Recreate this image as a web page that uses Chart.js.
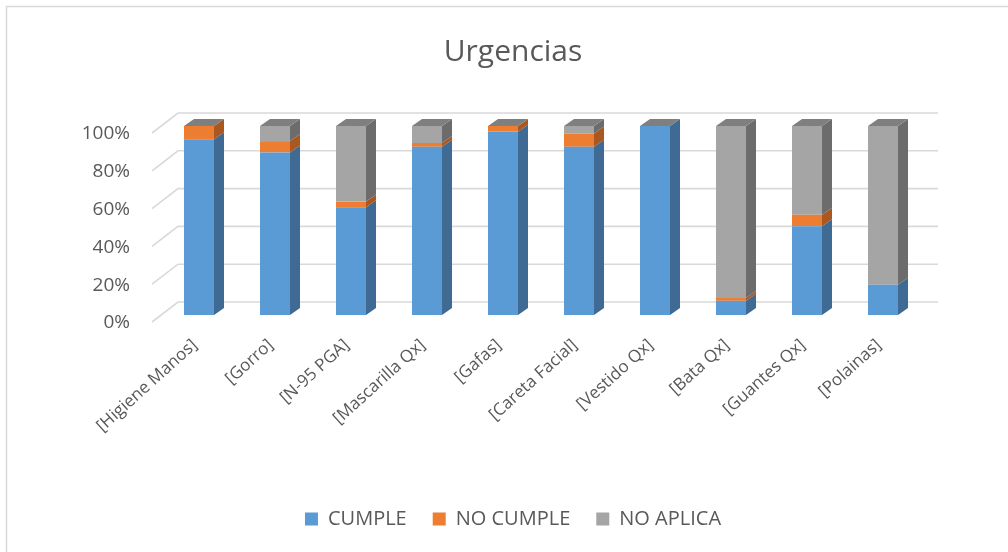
<!DOCTYPE html>
<html>
<head>
<meta charset="utf-8">
<script src="https://cdn.jsdelivr.net/npm/chart.js@4"></script>
<style>
  html, body { margin: 0; padding: 0; background: #fff; }
  #wrap { width: 1008px; height: 552px; }
</style>
</head>
<body>
<div id="wrap"><canvas id="myChart" width="1008" height="552"></canvas></div>
<script>
const categories = ['[Higiene Manos]', '[Gorro]', '[N-95 PGA]', '[Mascarilla Qx]', '[Gafas]',
                    '[Careta Facial]', '[Vestido Qx]', '[Bata Qx]', '[Guantes Qx]', '[Polainas]']
const cumple   = [93, 86, 57, 89, 97, 89, 100, 7.5, 47, 16]
const noCumple = [7, 6, 3, 2, 3, 7, 0, 1.5, 6, 0]
const noAplica = [0, 8, 40, 9, 0, 4, 0, 91, 47, 84]
const seriesNames = ['CUMPLE', 'NO CUMPLE', 'NO APLICA']
const yTicks = [0, 20, 40, 60, 80, 100]

// colours: front face / side face
const fronts = ['#5b9bd5', '#ed7d31', '#a5a5a5']
const sides = ['#3f6a93', '#ab5820', '#6c6c6c']
const topColor = '#7f7f7f'

// fake 3D: bar depth, back wall offset, front floor edge
const bar3d = {dx: 10, dy: 7}
const wall = {dx: 17, dy: 13}
const floorEdge = {dx: -9, dy: 7}

Chart.defaults.font.family = "'Open Sans', sans-serif"
Chart.defaults.color = '#595959'

const frame = {
    id: 'frame',
    beforeDraw(chart) {
        const ctx = chart.ctx
        ctx.save()
        ctx.fillStyle = '#fff'
        ctx.fillRect(0, 0, chart.width, chart.height)
        ctx.strokeStyle = '#d9d9d9'
        ctx.lineWidth = 1.5
        ctx.strokeRect(6.5, 6.5, chart.width + 20, chart.height + 20)
        ctx.restore()
    },
    beforeDatasetsDraw(chart) {
        // back wall grid + floor diagonals
        const ctx = chart.ctx, y = chart.scales.y
        const {left, right} = chart.chartArea
        ctx.save()
        ctx.strokeStyle = '#d9d9d9'
        ctx.lineWidth = 1.6
        y.ticks.forEach(t => {
            const py = y.getPixelForValue(t.value)
            ctx.beginPath()
            ctx.moveTo(left + floorEdge.dx, py + floorEdge.dy)
            ctx.lineTo(left + wall.dx, py - wall.dy)
            ctx.lineTo(right + wall.dx, py - wall.dy)
            ctx.stroke()
        })
        ctx.restore()
    },
    afterDatasetsDraw(chart) {
        const ctx = chart.ctx
        const n = chart.data.datasets.length
        ctx.save()
        for (let i = 0; i < n; i++) {
            chart.getDatasetMeta(i).data.forEach(bar => {
                const p = bar.getProps(['x', 'y', 'base', 'width'], true)
                const r = p.x + p.width / 2
                if (Math.abs(p.base - p.y) < 0.01) return
                ctx.fillStyle = sides[i]
                ctx.beginPath()
                ctx.moveTo(r, p.y)
                ctx.lineTo(r + bar3d.dx, p.y - bar3d.dy)
                ctx.lineTo(r + bar3d.dx, p.base - bar3d.dy)
                ctx.lineTo(r, p.base)
                ctx.closePath()
                ctx.fill()
            })
        }
        // top of every stack
        chart.getDatasetMeta(n - 1).data.forEach(bar => {
            const p = bar.getProps(['x', 'y', 'width'], true)
            const l = p.x - p.width / 2, r = p.x + p.width / 2
            ctx.fillStyle = topColor
            ctx.beginPath()
            ctx.moveTo(l, p.y)
            ctx.lineTo(l + bar3d.dx, p.y - bar3d.dy)
            ctx.lineTo(r + bar3d.dx, p.y - bar3d.dy)
            ctx.lineTo(r, p.y)
            ctx.closePath()
            ctx.fill()
        })
        ctx.restore()
    }
}

new Chart('myChart', {
    type: 'bar',
    data: {
        labels: categories,
        datasets: [cumple, noCumple, noAplica].map((vals, i) => ({
            label: seriesNames[i],
            data: vals,
            backgroundColor: fronts[i],
            borderWidth: 0,
            categoryPercentage: 1,
            barPercentage: 0.395
        }))
    },
    options: {
        responsive: false,
        animation: false,
        layout: {padding: {top: 0, right: 0, bottom: 13, left: 18}},
        plugins: {
            title: {
                display: true,
                text: 'Urgencias',
                color: '#595959',
                font: {size: 30, weight: 'normal'},
                padding: {top: 34, bottom: 56}
            },
            legend: {
                position: 'bottom',
                labels: {boxWidth: 13, boxHeight: 13, padding: 26, font: {size: 20}, color: '#595959'}
            },
            tooltip: {enabled: false}
        },
        scales: {
            x: {
                stacked: true,
                grid: {display: false, drawTicks: false},
                border: {display: false},
                ticks: {minRotation: 42, maxRotation: 42, padding: 20, labelOffset: -4, font: {size: 17}, color: '#595959'},
                afterFit: s => { s.height = 168 }
            },
            y: {
                stacked: true,
                min: 0,
                max: 100,
                grid: {display: false, drawTicks: false},
                border: {display: false},
                afterBuildTicks: s => { s.ticks = yTicks.map(v => ({value: v})) },
                ticks: {padding: 31, labelOffset: 8, font: {size: 19}, color: '#595959', callback: v => v + '%'},
                afterFit: s => { s.width = 143 }
            },
            // empty right-hand axis, only keeps room on the right
            yRight: {
                position: 'right',
                grid: {display: false, drawTicks: false},
                border: {display: false},
                ticks: {display: false},
                afterFit: s => { s.width = 87 }
            }
        }
    },
    plugins: [frame]
})
</script>
</body>
</html>
